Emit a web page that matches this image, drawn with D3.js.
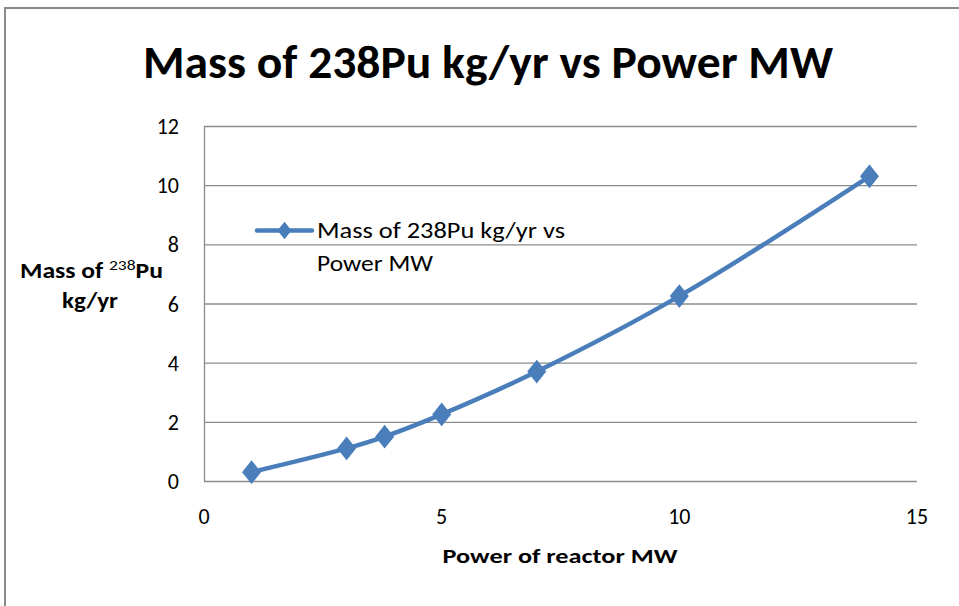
<!DOCTYPE html>
<html>
<head>
<meta charset="utf-8">
<script src="https://cdn.jsdelivr.net/npm/d3@7"></script>
<style>
  body { margin: 0; background: #fff; }
  svg text { font-family: Carlito, "Open Sans", "Noto Sans", sans-serif; fill: #000; }
</style>
</head>
<body>
<svg id="chart" width="959" height="606"></svg>
<script>

// data
var power = [ 1, 3, 3.8, 5, 7, 10, 14 ];
var mass = [ 0.3, 1.1, 1.5, 2.25, 3.7, 6.25, 10.3 ];
var xTicks = [ 0, 5, 10, 15 ];
var yTicks = [ 0, 2, 4, 6, 8, 10, 12 ];
var seriesName = [ 'Mass of 238Pu kg/yr vs', 'Power MW' ];

var svg = d3.select('#chart');

var blue = '#4a7ebb';
var grid = '#8c8c8c';

// chart frame
svg.append('rect')
    .attr('x', 5).attr('y', 8)
    .attr('width', 970).attr('height', 620)
    .style('fill', '#fff')
    .style('stroke', '#8a8a8a')
    .style('stroke-width', 2);

var x = d3.scaleLinear().domain([ 0, 15 ]).range([ 204, 917 ]);
var y = d3.scaleLinear().domain([ 0, 12 ]).range([ 481, 126 ]);

// gridlines
svg.append('g')
    .selectAll('line')
    .data( yTicks )
    .enter().append('line')
    .attr('x1', x(0)).attr('x2', x(15))
    .attr('y1', function (d) { return y(d) + 0.5; })
    .attr('y2', function (d) { return y(d) + 0.5; })
    .style('stroke', grid)
    .style('stroke-width', 1.3);

svg.append('line')
    .attr('x1', x(0) + 0.5).attr('x2', x(0) + 0.5)
    .attr('y1', y(12)).attr('y2', y(0))
    .style('stroke', grid)
    .style('stroke-width', 1.3);

// tick labels
svg.append('g')
    .selectAll('text')
    .data( yTicks )
    .enter().append('text')
    .attr('x', 179)
    .attr('y', function (d) { return y(d) + 8; })
    .attr('text-anchor', 'end')
    .style('font-size', '22px')
    .text( function (d) { return d; });

svg.append('g')
    .selectAll('text')
    .data( xTicks )
    .enter().append('text')
    .attr('x', function (d) { return x(d); })
    .attr('y', 524)
    .attr('text-anchor', 'middle')
    .style('font-size', '22px')
    .text( function (d) { return d; });

// title
svg.append('text')
    .attr('x', 488).attr('y', 78)
    .attr('text-anchor', 'middle')
    .attr('textLength', 690)
    .attr('lengthAdjust', 'spacingAndGlyphs')
    .style('font-size', '47px')
    .style('font-weight', 'bold')
    .text('Mass of 238Pu kg/yr vs Power MW');

// axis titles
svg.append('text')
    .attr('x', 560).attr('y', 563)
    .attr('text-anchor', 'middle')
    .attr('textLength', 235)
    .attr('lengthAdjust', 'spacingAndGlyphs')
    .style('font-size', '21px')
    .style('font-weight', 'bold')
    .text('Power of reactor MW');

var yTitle = svg.append('text')
    .attr('x', 20).attr('y', 278)
    .attr('textLength', 143)
    .attr('lengthAdjust', 'spacingAndGlyphs')
    .style('font-size', '22px')
    .style('font-weight', 'bold');
yTitle.append('tspan').text('Mass of ');
yTitle.append('tspan')
    .attr('dy', -8)
    .style('font-size', '15px')
    .style('font-weight', 'normal')
    .text('238');
yTitle.append('tspan')
    .attr('dy', 8)
    .text('Pu');

svg.append('text')
    .attr('x', 90).attr('y', 308)
    .attr('text-anchor', 'middle')
    .attr('textLength', 56)
    .attr('lengthAdjust', 'spacingAndGlyphs')
    .style('font-size', '22px')
    .style('font-weight', 'bold')
    .text('kg/yr');

// series
var points = power.map( function (d, i) { return [ d, mass[i] ]; });

var line = d3.line()
    .x( function (d) { return x(d[0]); })
    .y( function (d) { return y(d[1]); })
    .curve( d3.curveCatmullRom );

svg.append('path')
    .datum( points )
    .attr('d', line)
    .style('fill', 'none')
    .style('stroke', blue)
    .style('stroke-width', 4.5)
    .style('stroke-linejoin', 'round');

var diamond = d3.symbol().type( d3.symbolDiamond ).size( 200 );

svg.append('g')
    .selectAll('path')
    .data( points )
    .enter().append('path')
    .attr('d', diamond)
    .attr('transform', function (d) {
        return 'translate(' + x(d[0]) + ',' + y(d[1]) + ') scale(1.25,0.9)';
    })
    .style('fill', blue);

// legend
svg.append('line')
    .attr('x1', 257).attr('x2', 312)
    .attr('y1', 230.5).attr('y2', 230.5)
    .style('stroke', blue)
    .style('stroke-width', 4.5)
    .style('stroke-linecap', 'round');

svg.append('path')
    .attr('d', d3.symbol().type( d3.symbolDiamond ).size( 110 ))
    .attr('transform', 'translate(284.5,230.5) scale(1.25,0.9)')
    .style('fill', blue);

svg.append('g')
    .selectAll('text')
    .data( seriesName )
    .enter().append('text')
    .attr('x', 317)
    .attr('y', function (d, i) { return 238 + i * 33; })
    .style('font-size', '22px')
    .attr('textLength', function (d, i) { return i === 0 ? 248 : 116; })
    .attr('lengthAdjust', 'spacingAndGlyphs')
    .text( function (d) { return d; });

</script>
</body>
</html>
